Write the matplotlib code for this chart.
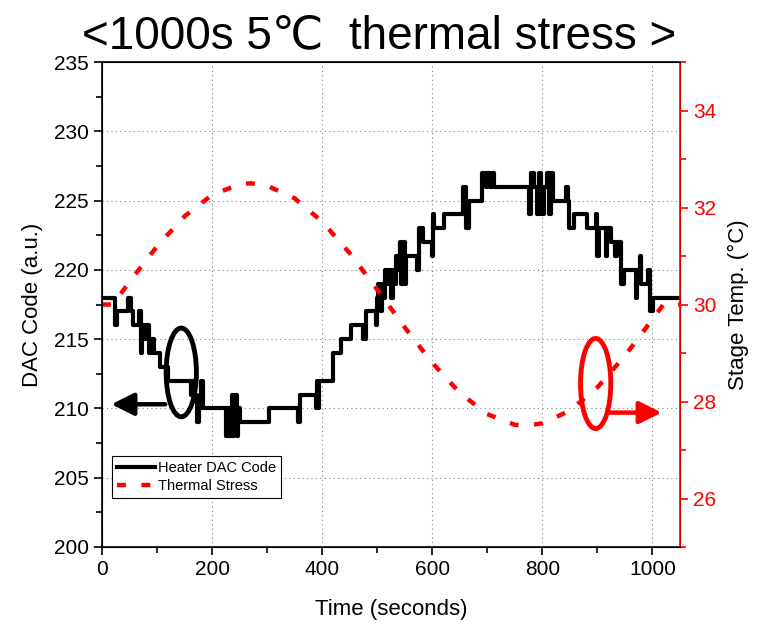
import matplotlib
matplotlib.use('Agg')
from matplotlib import pyplot as plt
from matplotlib.patches import Ellipse
from matplotlib.ticker import MultipleLocator

plt.rcParams['font.family'] = ['Liberation Sans', 'DejaVu Sans']

# Heater DAC code as (time, code) steps
dac_time = [0, 24, 27, 48, 53, 57, 67, 70, 73, 78, 82, 86, 90, 94, 106, 120,
            161, 164, 168, 172, 176, 179, 183,
            225, 228, 230, 232, 234, 236, 238, 240, 242, 244, 246, 248, 250,
            304, 356, 359, 389, 391, 393, 395, 420, 435, 453, 474, 480, 497,
            499, 502, 505, 508, 511, 514, 517, 521, 525, 528, 532, 535, 538,
            541, 544, 547, 550, 553, 556, 572, 576, 583, 599, 601, 604, 622,
            656, 662, 666, 690, 697, 700, 705, 708, 713,
            776, 780, 785, 790, 794, 798, 803, 808, 812, 816, 820, 843, 846,
            849, 858, 882, 897, 900, 904, 915, 918, 925, 933, 936, 943, 949,
            970, 973, 977, 980, 993, 996, 1001, 1050]
dac_code = [218, 216, 217, 218, 217, 216, 217, 214, 216, 215, 216, 214, 215, 214, 213, 212,
            211, 212, 211, 209, 210, 212, 210,
            208, 210, 208, 209, 208, 211, 208, 211, 209, 211, 208, 210, 209,
            210, 209, 211, 210, 212, 210, 212, 214, 215, 216, 215, 217, 216,
            218, 219, 217, 219, 218, 220, 219, 220, 218, 220, 219, 221, 220,
            222, 219, 222, 219, 221, 221, 220, 223, 222, 221, 224, 223, 224,
            226, 223, 225, 227, 226, 227, 226, 227, 226,
            224, 227, 226, 224, 227, 224, 226, 227, 224, 227, 225, 226, 225,
            223, 224, 223, 224, 221, 223, 221, 223, 222, 221, 222, 219, 220,
            218, 220, 221, 219, 220, 217, 218, 218]

# Stage temperature (thermal stress profile)
temp_time = [0, 20, 50, 100, 150, 200, 250, 270, 300, 350, 400, 450, 500,
             550, 600, 650, 700, 750, 770, 800, 850, 900, 950, 1000, 1020, 1050]
stage_temp = [30.0, 30.0, 30.47, 31.2, 31.82, 32.26, 32.48, 32.5, 32.45, 32.19,
              31.71, 31.06, 30.31, 29.53, 28.8, 28.18, 27.74, 27.52, 27.5, 27.55,
              27.81, 28.29, 28.94, 29.69, 30.0, 30.0]

fig = plt.figure(figsize=(7.63, 6.24), dpi=100)
ax = fig.add_axes([0.1337, 0.1234, 0.7573, 0.7772])
ax2 = ax.twinx()

l1, = ax.plot(dac_time, dac_code, color='black', lw=3, drawstyle='steps-post',
              label='Heater DAC Code')
l2, = ax2.plot(temp_time, stage_temp, color='red', lw=3.2, linestyle=(0, (2, 3.5)),
               label='Thermal Stress')

ax.set_xlim(0, 1050)
ax.set_ylim(200, 235)
ax2.set_ylim(25, 35)

ax.xaxis.set_major_locator(MultipleLocator(200))
ax.xaxis.set_minor_locator(MultipleLocator(100))
ax.yaxis.set_major_locator(MultipleLocator(5))
ax.yaxis.set_minor_locator(MultipleLocator(2.5))
ax2.yaxis.set_major_locator(MultipleLocator(2))
ax2.yaxis.set_minor_locator(MultipleLocator(1))

ax.grid(True, which='major', linestyle=(0, (1, 3)), color='gray', lw=0.8)

ax.tick_params(which='both', direction='out', labelsize=15, width=1.2)
ax.tick_params(which='major', length=6)
ax.tick_params(which='minor', length=4)
ax2.tick_params(which='both', direction='out', labelsize=15, colors='red', width=1.2)
ax2.tick_params(which='major', length=6)
ax2.tick_params(which='minor', length=4)
for s in ['left', 'bottom', 'top']:
    ax.spines[s].set_linewidth(1.2)
ax2.spines['right'].set_color('red')
ax2.spines['right'].set_linewidth(1.2)

ax.set_xlabel('Time (seconds)', fontsize=16, labelpad=14)
ax.set_ylabel('DAC Code (a.u.)', fontsize=16, labelpad=8)
ax2.set_ylabel('Stage Temp. (°C)', fontsize=16, labelpad=8)
ax.set_title('<1000s 5℃  thermal stress >', fontsize=33, pad=10, x=0.48)

# ellipses and arrows marking which axis each curve belongs to
ax.add_patch(Ellipse((144, 212.6), 55, 6.4, fill=False, ec='black', lw=3.5, zorder=5))
ax.add_patch(Ellipse((897, 211.8), 55, 6.5, fill=False, ec='red', lw=3.5, zorder=5))
ax.annotate('', xy=(12, 210.3), xytext=(120, 210.3),
            arrowprops=dict(arrowstyle='-|>', color='black', lw=3.2, mutation_scale=34))
ax.annotate('', xy=(1022, 209.7), xytext=(917, 209.7),
            arrowprops=dict(arrowstyle='-|>', color='red', lw=3.2, mutation_scale=34))

leg = ax2.legend(handles=[l1, l2], loc='upper left', bbox_to_anchor=(0.017, 0.188),
                 fontsize=10.5, frameon=True, fancybox=False, framealpha=1,
                 edgecolor='black', handlelength=2.6, handletextpad=0.2,
                 borderpad=0.35, labelspacing=0.3, borderaxespad=0)
leg.get_frame().set_linewidth(0.8)

fig.savefig('out.png', dpi=100)
